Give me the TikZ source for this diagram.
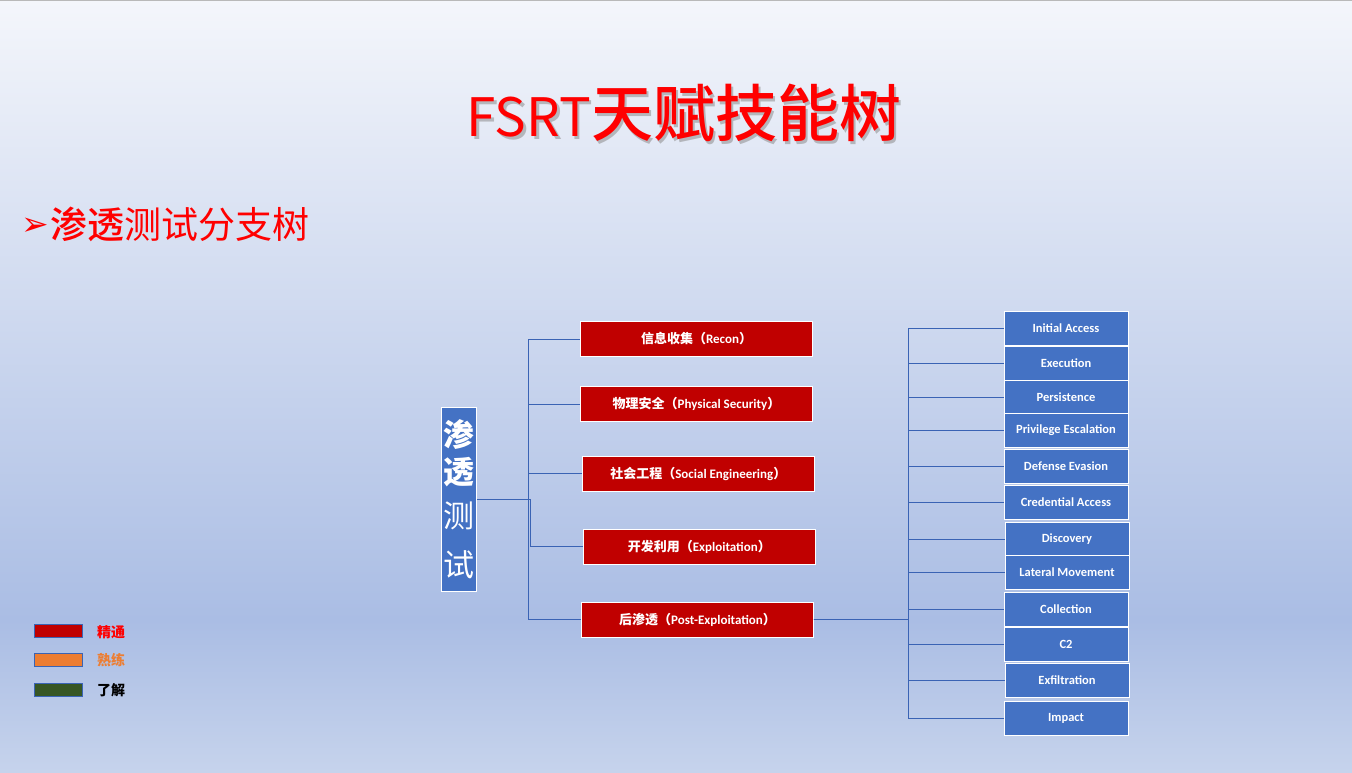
\documentclass[tikz,border=0pt]{standalone}
\usepackage{fontspec}
\setmainfont{Carlito}
\newfontfamily\cjk{Noto Sans CJK SC}
\newfontfamily\cjkmed{Noto Sans CJK SC Medium}
\newfontfamily\dejavu{DejaVu Sans}
\definecolor{boxred}{HTML}{C00000}
\definecolor{boxblue}{HTML}{4472C4}
\definecolor{linec}{HTML}{3A63B4}
\definecolor{titlered}{HTML}{FF0000}
\definecolor{orng}{HTML}{ED7D31}
\definecolor{dgreen}{HTML}{375623}
\definecolor{bgtop}{HTML}{F4F6FB}
\definecolor{bgmid}{HTML}{AABDE4}
\definecolor{bgbot}{HTML}{C6D3EC}
\begin{document}
\begin{tikzpicture}[x=1pt,y=-1pt,
  redbox/.style={draw=white, line width=1pt, fill=boxred, text=white, minimum width=231.5pt, minimum height=34.7pt, inner sep=0pt, font=\bfseries\fontsize{13}{15}\selectfont},
  bluebox/.style={draw=white, line width=1pt, fill=boxblue, text=white, minimum width=124pt, minimum height=34pt, inner sep=0pt, font=\bfseries\fontsize{12.5}{15}\selectfont},
  conn/.style={draw=linec, line width=1pt},
  legbox/.style={draw=linec, line width=1pt, minimum width=48pt, minimum height=12.5pt, inner sep=0pt},
  legtext/.style={font=\cjk\bfseries\fontsize{14}{16}\selectfont, anchor=west, inner sep=0pt}
]
\useasboundingbox (0,0) rectangle (1352,772);
\shade[top color=bgtop, bottom color=bgmid] (0,0) rectangle (1352,620);
\shade[top color=bgmid, bottom color=bgbot] (0,620) rectangle (1352,772);
\draw[gray!55, line width=1pt] (0,0.5) -- (1352,0.5);

% title
\node[font=\cjk, text=black!45, opacity=0.55] (titleshadow) at (686.5,115.5)
  {{\fontsize{53}{60}\selectfont FSRT}{\cjkmed\fontsize{62}{70}\selectfont 天赋技能树}};
\node[font=\cjk, text=titlered] (title) at (684,113)
  {{\fontsize{53}{60}\selectfont FSRT}{\cjkmed\fontsize{62}{70}\selectfont 天赋技能树}};

% subtitle
\node[anchor=west, inner sep=0pt, text=titlered] (subtitle) at (21,224)
  {\raisebox{3pt}{\dejavu\fontsize{33}{36}\selectfont ➢}\hspace{2pt}{\cjkmed\fontsize{37}{42}\selectfont 渗透}{\cjk\fontsize{37}{42}\selectfont 测试分支树}};

% main node
\node[draw=white, line width=1pt, fill=boxblue, text=white, minimum width=35pt, minimum height=184pt, inner sep=0pt, align=center, font=\cjk\fontsize{31}{40}\selectfont] (main) at (459.2,499.5)
  {{\bfseries 渗}\\[-3.5pt]{\bfseries 透}\\[4.5pt]测\\[9pt]试};

% red boxes
\node[redbox] (r1) at (696.5,339) {{\cjk\bfseries 信息收集（}Recon{\cjk\bfseries ）}};
\node[redbox] (r2) at (696.5,404) {{\cjk\bfseries 物理安全（}Physical Security{\cjk\bfseries ）}};
\node[redbox] (r3) at (698.3,473.8) {{\cjk\bfseries 社会工程（}Social Engineering{\cjk\bfseries ）}};
\node[redbox] (r4) at (699.3,546.8) {{\cjk\bfseries 开发利用（}Exploitation{\cjk\bfseries ）}};
\node[redbox] (r5) at (697.5,619.7) {{\cjk\bfseries 后渗透（}Post-Exploitation{\cjk\bfseries ）}};

% blue boxes
\node[bluebox] (b1) at (1066,328) {Initial Access};
\node[bluebox] (b2) at (1066,363) {Execution};
\node[bluebox] (b3) at (1066,397) {Persistence};
\node[bluebox] (b4) at (1066,430.5) {Privilege Escalation};
\node[bluebox] (b5) at (1066,466) {Defense Evasion};
\node[bluebox] (b6) at (1066,502) {Credential Access};
\node[bluebox] (b7) at (1067,539) {Discovery};
\node[bluebox] (b8) at (1067,572.5) {Lateral Movement};
\node[bluebox] (b9) at (1066,609) {Collection};
\node[bluebox] (b10) at (1066,644) {C2};
\node[bluebox] (b11) at (1067,680.5) {Exfiltration};
\node[bluebox] (b12) at (1066,718.5) {Impact};

% connectors left
\coordinate (lbus) at (528.5,499.5);
\coordinate (lbusb) at (530.3,499.5);
\foreach \r in {r1,r2,r3,r5} \draw[conn] (main.east) -- (lbus) |- (\r.west);
\draw[conn] (main.east) -- (lbusb) |- (r4.west);

% connectors right
\coordinate (rbus) at (908.3,619.7);
\foreach \b in {b1,b2,b3,b4,b5,b6,b7,b8,b9,b10,b11,b12} \draw[conn] (r5.east) -- (rbus) |- (\b.west);

% legend
\node[legbox, fill=boxred] (l1) at (58,631.2) {};
\node[legbox, fill=orng] (l2) at (58,660) {};
\node[legbox, fill=dgreen] (l3) at (58,690) {};
\node[legtext, text=titlered] (lt1) at (97,632) {精通};
\node[legtext, text=orng] (lt2) at (97,660) {熟练};
\node[legtext, text=black] (lt3) at (97,690) {了解};
\end{tikzpicture}
\end{document}
